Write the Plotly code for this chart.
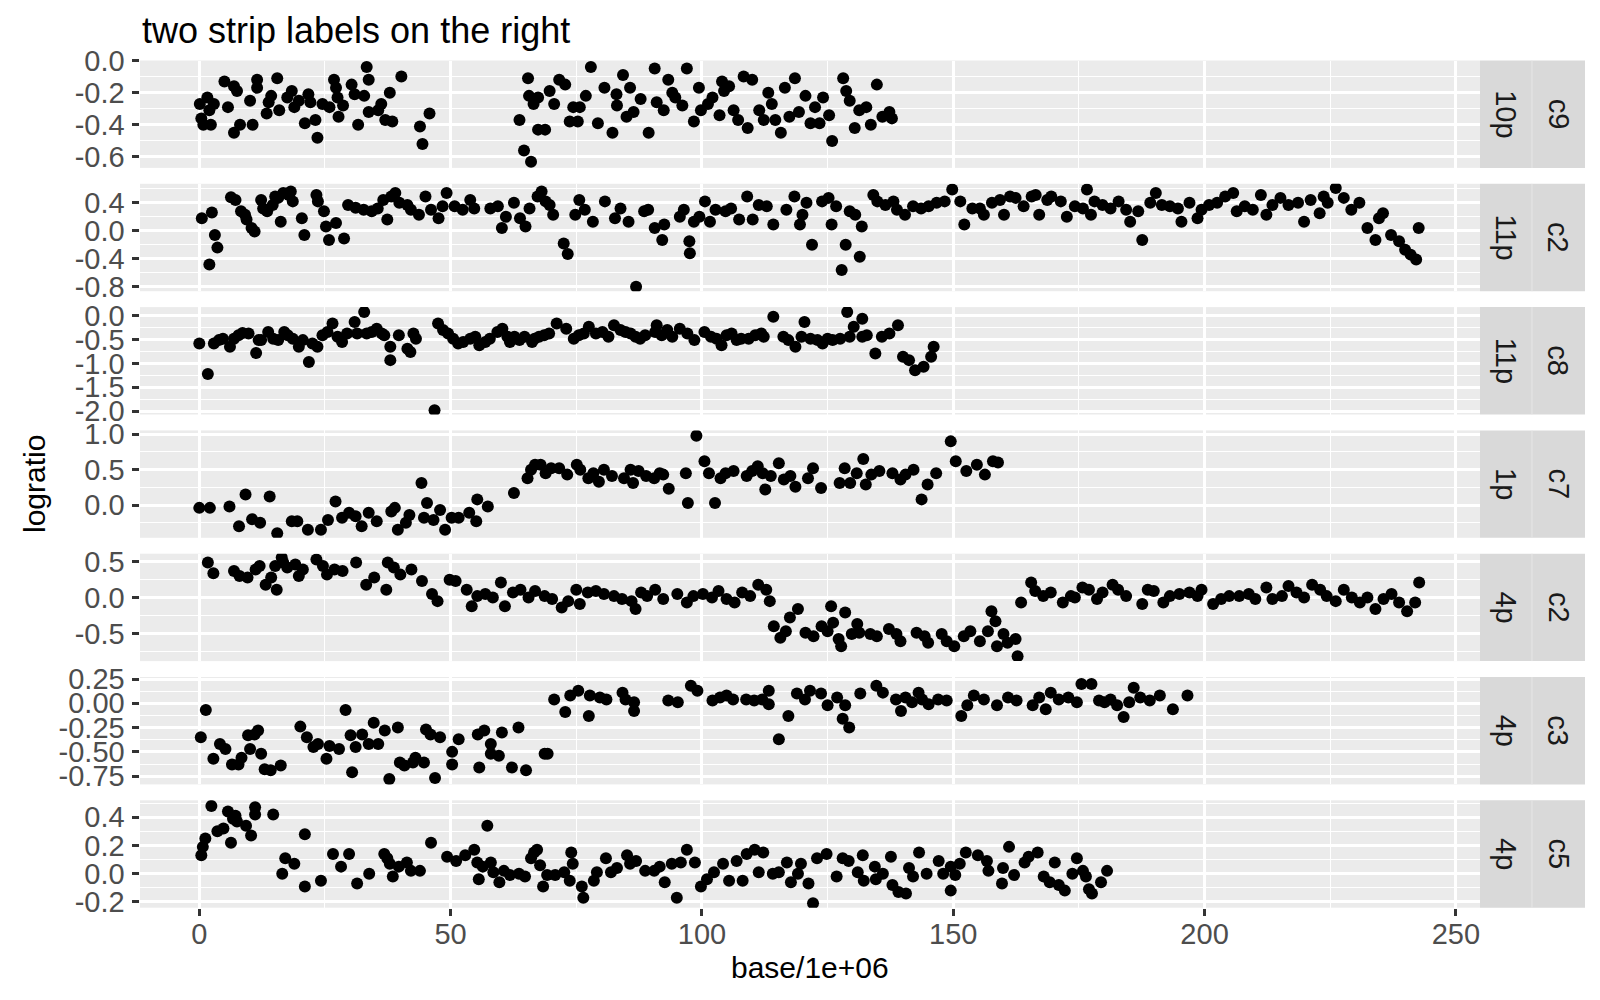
import plotly.graph_objects as go

# ---------------- data (x = base/1e+06, y = logratio) ----------------
p1_x = [0.1,0.4,0.8,1.6,2.0,2.3,2.9,5.7,5.0,6.9,7.5,6.9,8.1,10.1,10.6,11.5,11.5,13.4,13.8,14.3,
        15.5,15.9,17.5,18.4,18.9,19.8,21.0,21.7,22.1,23.1,23.5,24.5,25.9,26.8,27.2,27.5,27.7,28.6,30.3,30.9,
        31.6,32.8,33.3,33.7,33.7,35.6,36.2,37.0,37.9,38.4,40.2,43.9,44.4,45.8,
        64.6,66.0,63.7,65.4,65.6,66.5,67.4,68.8,67.4,69.7,70.6,71.6,72.8,73.7,74.4,75.3,75.7,76.9,77.9,79.3,
        80.6,82.2,83.0,83.1,84.3,85.0,85.7,86.4,87.8,89.4,90.6,91.0,92.4,93.3,94.1,94.7,96.1,97.0,98.4,99.4,
        99.8,101.2,102.1,103.5,104.0,104.4,105.4,106.3,107.2,108.3,109.1,110.0,111.4,112.3,113.2,113.9,114.6,115.7,116.5,117.4,
        118.5,119.3,120.6,121.6,122.5,123.4,124.1,125.3,125.9,128.1,128.7,129.4,130.4,131.3,132.7,133.6,134.8,135.9,137.3,137.8]
p1_y = [-0.27,-0.36,-0.40,-0.23,-0.31,-0.40,-0.27,-0.29,-0.13,-0.16,-0.19,-0.45,-0.40,-0.25,-0.40,-0.12,-0.17,-0.33,-0.26,-0.22,
        -0.11,-0.31,-0.23,-0.19,-0.29,-0.25,-0.39,-0.21,-0.26,-0.37,-0.48,-0.27,-0.29,-0.12,-0.17,-0.23,-0.35,-0.28,-0.15,-0.21,
        -0.40,-0.22,-0.04,-0.12,-0.32,-0.31,-0.27,-0.37,-0.20,-0.38,-0.10,-0.41,-0.52,-0.33,
        -0.56,-0.63,-0.37,-0.11,-0.22,-0.27,-0.43,-0.43,-0.23,-0.19,-0.27,-0.12,-0.15,-0.38,-0.29,-0.38,-0.29,-0.22,-0.04,-0.39,
        -0.17,-0.45,-0.21,-0.28,-0.09,-0.35,-0.17,-0.32,-0.24,-0.45,-0.05,-0.26,-0.31,-0.12,-0.20,-0.23,-0.28,-0.05,-0.38,-0.17,
        -0.31,-0.27,-0.23,-0.34,-0.13,-0.19,-0.16,-0.31,-0.37,-0.10,-0.42,-0.12,-0.31,-0.37,-0.20,-0.27,-0.37,-0.45,-0.17,-0.35,
        -0.11,-0.32,-0.22,-0.39,-0.29,-0.39,-0.23,-0.34,-0.50,-0.11,-0.19,-0.25,-0.42,-0.31,-0.29,-0.40,-0.15,-0.35,-0.32,-0.36]

p2_x = [0.5,2.5,2.0,3.1,3.6,6.3,7.2,8.3,9.1,9.4,10.4,11.0,12.3,12.7,13.5,14.6,15.1,15.7,16.2,16.7,
        17.8,18.2,18.6,20.4,20.9,23.3,23.6,24.8,25.2,25.8,27.2,28.8,29.6,31.1,32.7,34.3,35.5,36.6,37.4,38.2,
        39.0,39.8,41.4,42.1,43.7,45.0,46.1,47.6,48.4,49.2,50.8,52.4,53.9,54.7,57.9,59.4,60.2,61.0,62.6,63.8,
        64.9,65.7,67.3,68.1,68.9,69.7,70.4,72.5,73.3,74.8,75.6,76.7,78.3,80.7,82.7,83.8,85.4,86.9,88.5,89.3,
        90.6,92.1,92.5,95.6,96.4,97.5,97.6,98.4,99.5,100.6,101.6,102.7,104.7,105.8,107.4,109.0,110.1,111.3,112.9,114.2,
        116.8,118.4,119.5,120.0,120.8,121.9,123.9,125.2,125.8,126.7,127.8,128.6,129.4,130.5,131.4,131.8,134.1,134.9,136.5,138.1,
        138.8,140.4,142.0,143.6,145.1,146.7,148.3,149.8,151.4,152.2,153.8,155.3,156.1,157.7,159.3,160.1,161.3,162.4,164.0,165.6,
        166.4,167.1,168.7,169.5,171.4,172.6,174.2,175.8,176.6,177.4,178.1,179.7,181.3,182.9,184.4,185.2,186.8,187.6,189.2,190.3,
        191.5,193.1,194.7,195.4,197.0,198.6,199.4,200.9,202.5,204.1,205.7,206.4,208.0,209.6,211.2,212.3,213.5,215.1,216.7,218.6,
        219.8,221.1,222.9,223.7,224.5,226.1,227.7,229.2,230.8,232.4,234.0,234.7,235.5,237.1,238.7,239.9,241.0,242.1,242.6]
p2_y = [0.18,0.26,-0.48,-0.06,-0.24,0.48,0.44,0.28,0.23,0.16,0.04,-0.01,0.44,0.32,0.28,0.37,0.49,0.47,0.13,0.54,
        0.51,0.56,0.42,0.18,-0.06,0.51,0.42,0.28,0.06,-0.13,0.11,-0.11,0.37,0.33,0.30,0.28,0.32,0.44,0.16,0.49,
        0.54,0.40,0.37,0.30,0.23,0.49,0.30,0.18,0.35,0.54,0.35,0.30,0.44,0.32,0.32,0.35,0.04,0.20,0.40,0.18,
        0.06,0.32,0.49,0.56,0.42,0.37,0.23,-0.18,-0.33,0.23,0.44,0.30,0.13,0.42,0.18,0.32,0.13,-0.80,0.28,0.30,
        0.04,-0.13,0.09,0.20,0.30,-0.15,-0.32,0.13,0.20,0.42,0.13,0.30,0.28,0.32,0.16,0.49,0.16,0.37,0.35,0.09,
        0.30,0.49,0.09,0.23,0.40,-0.20,0.42,0.47,0.09,0.35,-0.56,-0.20,0.28,0.23,-0.37,0.06,0.51,0.42,0.37,0.42,
        0.30,0.23,0.35,0.32,0.35,0.40,0.42,0.59,0.42,0.09,0.32,0.32,0.23,0.40,0.44,0.23,0.49,0.47,0.35,0.49,
        0.51,0.23,0.44,0.49,0.42,0.20,0.35,0.32,0.59,0.23,0.42,0.37,0.32,0.42,0.30,0.13,0.28,-0.13,0.40,0.54,
        0.37,0.35,0.32,0.13,0.40,0.18,0.30,0.37,0.40,0.49,0.54,0.28,0.35,0.30,0.51,0.23,0.37,0.47,0.37,0.40,
        0.13,0.44,0.25,0.49,0.40,0.61,0.47,0.30,0.40,0.04,-0.13,0.18,0.25,-0.06,-0.15,-0.27,-0.34,-0.41,0.04]

p3_x = [0.0,1.7,2.9,3.9,4.7,6.1,6.9,7.8,8.6,9.8,11.3,11.8,12.3,13.7,14.7,15.7,16.9,17.6,18.6,19.8,
        20.6,21.8,22.5,23.5,24.5,25.5,26.5,27.5,28.4,29.4,30.9,31.4,32.8,33.3,34.3,35.3,36.3,36.8,38.0,38.0,
        39.7,41.4,42.0,42.6,43.1,46.8,47.5,48.5,49.5,50.5,51.5,52.5,53.9,54.9,55.7,56.9,57.8,59.3,60.3,61.3,
        61.8,62.7,63.7,64.7,66.2,66.7,67.6,68.6,69.6,71.1,73.0,74.5,75.5,76.5,77.5,78.9,80.2,81.4,82.5,83.8,
        84.8,85.8,86.8,87.7,88.7,91.0,90.7,92.0,93.1,94.1,95.6,97.1,98.5,100.5,101.8,102.9,103.9,104.9,105.9,106.9,
        107.8,109.3,110.6,111.8,112.3,114.2,116.2,117.2,118.6,119.8,120.4,121.6,123.0,124.0,125.0,126.0,127.5,128.9,129.4,130.2,
        131.9,131.9,132.8,134.5,135.8,137.3,139.0,140.0,141.2,142.4,144.1,145.6,146.1]
p3_y = [-0.58,-1.22,-0.58,-0.51,-0.48,-0.65,-0.48,-0.41,-0.36,-0.37,-0.78,-0.51,-0.51,-0.34,-0.48,-0.51,-0.34,-0.41,-0.48,-0.65,
        -0.51,-0.97,-0.58,-0.65,-0.41,-0.34,-0.16,-0.44,-0.55,-0.37,-0.13,-0.37,0.08,-0.37,-0.34,-0.27,-0.37,-0.41,-0.65,-0.93,
        -0.41,-0.69,-0.76,-0.37,-0.48,-1.98,-0.16,-0.30,-0.37,-0.48,-0.58,-0.55,-0.48,-0.44,-0.62,-0.55,-0.48,-0.34,-0.27,-0.44,
        -0.55,-0.44,-0.51,-0.44,-0.55,-0.48,-0.44,-0.41,-0.37,-0.16,-0.27,-0.48,-0.41,-0.37,-0.23,-0.37,-0.34,-0.44,-0.20,-0.30,
        -0.34,-0.37,-0.44,-0.48,-0.41,-0.20,-0.34,-0.41,-0.30,-0.44,-0.27,-0.37,-0.51,-0.34,-0.44,-0.48,-0.62,-0.41,-0.37,-0.51,
        -0.48,-0.48,-0.41,-0.37,-0.44,-0.02,-0.44,-0.51,-0.65,-0.44,-0.13,-0.48,-0.51,-0.58,-0.48,-0.51,-0.48,0.08,-0.44,-0.23,
        -0.06,-0.44,-0.41,-0.79,-0.44,-0.37,-0.20,-0.86,-0.93,-1.14,-1.07,-0.86,-0.65]

p4_x = [0.0,2.1,6.0,7.9,9.2,10.5,12.1,14.0,15.5,18.4,19.5,21.6,24.2,25.6,27.1,28.4,29.8,31.1,32.3,33.7,
        35.3,38.2,38.9,39.5,41.1,41.8,44.2,44.7,45.3,46.6,47.9,48.9,50.2,51.6,53.7,55.1,55.3,57.4,62.6,65.3,
        66.0,66.8,67.9,68.9,70.0,71.6,73.2,75.1,75.8,77.4,78.4,79.5,80.5,82.1,84.5,85.8,86.3,87.4,88.9,90.5,
        91.6,92.3,93.4,96.8,97.2,98.9,100.5,101.4,102.6,103.7,104.7,106.3,108.9,110.0,111.1,112.1,112.6,113.7,115.3,116.3,
        117.6,118.6,121.1,122.1,123.7,127.4,128.4,129.5,130.8,132.1,132.6,133.7,135.3,137.9,139.5,140.5,142.1,143.7,144.9,146.6,
        149.5,150.5,152.6,154.7,156.3,157.9,158.9]
p4_y = [-0.04,-0.04,-0.02,-0.30,0.15,-0.20,-0.25,0.12,-0.40,-0.23,-0.23,-0.35,-0.35,-0.21,0.05,-0.18,-0.11,-0.16,-0.30,-0.11,
        -0.23,-0.09,-0.04,-0.35,-0.25,-0.14,0.31,-0.18,0.03,-0.21,-0.07,-0.35,-0.18,-0.18,-0.11,-0.23,0.08,-0.02,0.17,0.38,
        0.50,0.57,0.57,0.45,0.52,0.52,0.43,0.57,0.50,0.38,0.45,0.33,0.50,0.41,0.38,0.50,0.31,0.48,0.41,0.38,
        0.45,0.43,0.23,0.45,0.03,0.98,0.62,0.45,0.03,0.38,0.45,0.48,0.41,0.48,0.55,0.45,0.22,0.41,0.59,0.36,
        0.41,0.26,0.38,0.52,0.24,0.31,0.52,0.31,0.45,0.65,0.29,0.43,0.48,0.45,0.36,0.43,0.50,0.08,0.29,0.45,
        0.90,0.62,0.48,0.57,0.43,0.62,0.60]

p5_x = [1.7,2.8,6.9,8.0,9.6,11.2,12.0,13.2,14.3,15.4,15.1,16.4,16.7,17.5,19.1,19.8,20.6,23.3,24.6,25.4,
        26.9,28.5,31.2,33.2,34.8,37.2,37.5,38.7,40.0,42.2,44.3,46.3,47.4,49.8,51.0,53.2,54.2,55.3,56.9,58.4,
        60.0,60.8,62.4,63.9,65.5,66.8,68.7,70.2,72.1,73.4,75.0,75.7,77.3,78.9,80.5,82.5,84.1,86.0,86.8,87.9,
        89.1,90.7,92.3,95.1,97.0,98.3,100.2,102.0,103.3,104.9,106.5,108.0,109.6,111.2,112.8,113.5,114.3,115.6,116.7,117.5,
        119.1,120.6,122.2,123.8,125.0,125.7,126.1,127.2,127.7,128.5,129.8,130.9,131.3,133.5,134.8,137.2,138.7,139.5,142.7,144.3,
        145.0,147.7,148.7,150.2,152.1,153.4,155.3,156.9,157.6,158.4,158.7,160.0,160.8,162.4,162.8,163.5,165.5,166.3,167.9,169.4,
        171.8,173.4,174.2,175.7,177.0,178.6,179.7,181.7,182.8,184.4,187.6,188.7,189.9,191.8,193.1,195.0,197.0,198.6,199.4,201.7,
        203.3,204.9,206.9,208.8,210.1,212.3,213.5,215.4,216.7,218.3,219.8,221.4,223.0,224.3,226.1,227.7,229.3,230.9,232.4,234.0,
        235.6,237.2,238.7,240.3,241.9,242.7]
p5_y = [0.49,0.34,0.37,0.30,0.28,0.39,0.44,0.18,0.28,0.11,0.44,0.56,0.49,0.42,0.46,0.30,0.39,0.53,0.44,0.32,
        0.39,0.37,0.49,0.18,0.28,0.11,0.49,0.42,0.32,0.39,0.23,0.05,-0.05,0.25,0.23,0.11,-0.12,0.02,0.05,0.00,
        0.21,-0.12,0.07,0.11,0.00,0.09,0.02,-0.02,-0.14,-0.05,0.11,-0.09,0.07,0.09,0.05,0.02,-0.02,-0.05,-0.16,0.07,
        0.02,0.11,-0.02,0.05,-0.07,0.02,0.05,0.00,0.09,-0.02,-0.07,0.07,0.02,0.18,0.11,-0.05,-0.40,-0.56,-0.47,-0.28,
        -0.16,-0.49,-0.54,-0.40,-0.47,-0.12,-0.35,-0.58,-0.68,-0.21,-0.51,-0.37,-0.49,-0.51,-0.54,-0.44,-0.51,-0.61,-0.49,-0.54,
        -0.63,-0.51,-0.61,-0.68,-0.54,-0.47,-0.61,-0.47,-0.19,-0.33,-0.68,-0.51,-0.63,-0.58,-0.82,-0.07,0.21,0.09,0.02,0.07,
        -0.07,0.02,0.00,0.14,0.11,-0.02,0.07,0.18,0.11,0.02,-0.09,0.11,0.09,-0.07,0.02,0.05,0.07,0.02,0.11,-0.09,
        -0.02,0.02,0.02,0.05,-0.02,0.14,-0.02,0.02,0.16,0.07,0.00,0.18,0.11,0.02,-0.05,0.11,0.00,-0.07,0.00,-0.16,
        -0.02,0.05,-0.07,-0.19,-0.07,0.21]

p6_x = [1.3,0.3,2.8,4.1,5.2,6.5,7.8,8.4,9.7,10.1,11.0,11.7,12.3,13.0,14.2,16.2,20.1,21.4,22.7,23.6,
        25.3,25.9,27.8,29.1,30.1,30.4,31.1,32.4,33.7,34.7,35.6,36.9,37.8,39.5,39.9,40.8,42.5,43.0,44.7,45.1,
        46.0,46.9,47.9,50.3,50.3,51.6,55.4,55.7,56.7,58.0,58.0,59.6,60.2,62.2,63.5,65.0,68.7,69.3,70.6,72.8,
        73.8,75.4,77.5,77.7,79.7,81.0,84.2,84.8,86.5,86.5,93.3,95.2,97.8,99.1,102.1,103.6,104.9,106.2,108.8,110.4,
        112.0,113.3,113.3,115.3,117.2,118.9,120.5,121.5,123.7,125.0,126.9,128.0,128.5,129.3,131.5,134.7,136.0,138.6,139.6,140.5,
        141.8,143.1,143.8,145.1,147.0,148.7,151.6,152.8,154.1,156.1,158.7,160.9,162.6,165.8,167.1,168.4,169.4,171.0,172.9,174.6,
        175.5,177.5,179.0,180.1,181.3,182.6,183.9,185.0,185.9,187.2,189.1,191.1,193.7,196.6]
p6_y = [-0.07,-0.35,-0.57,-0.42,-0.47,-0.63,-0.63,-0.56,-0.33,-0.47,-0.32,-0.28,-0.52,-0.68,-0.69,-0.64,-0.24,-0.35,-0.45,-0.42,
        -0.57,-0.44,-0.47,-0.07,-0.33,-0.71,-0.45,-0.32,-0.42,-0.20,-0.42,-0.28,-0.78,-0.25,-0.61,-0.64,-0.61,-0.56,-0.61,-0.27,
        -0.32,-0.77,-0.35,-0.50,-0.63,-0.37,-0.32,-0.66,-0.28,-0.42,-0.52,-0.54,-0.30,-0.66,-0.25,-0.69,-0.52,-0.52,0.04,-0.09,
        0.08,0.13,-0.13,0.08,0.06,0.04,0.11,0.04,0.01,-0.08,0.03,0.01,0.18,0.13,0.03,0.06,0.08,0.04,0.04,0.03,
        0.04,0.13,-0.01,-0.37,-0.13,0.10,0.04,0.13,0.10,-0.02,0.06,-0.16,-0.02,-0.25,0.10,0.18,0.11,0.04,-0.08,0.06,
        0.01,0.11,0.04,-0.01,0.04,0.03,-0.13,-0.02,0.08,0.04,-0.02,0.06,0.03,-0.02,0.06,-0.06,0.11,0.04,0.06,0.01,
        0.20,0.20,0.03,0.01,0.04,-0.02,-0.14,0.01,0.16,0.06,0.03,0.08,-0.06,0.08]

p7_x = [0.4,0.7,1.2,2.4,3.6,4.8,5.7,6.3,6.7,7.2,7.5,9.3,10.3,11.1,11.1,14.7,16.5,17.1,18.9,21.0,
        21.0,24.2,26.6,28.2,29.8,31.4,33.8,36.8,37.4,37.9,38.5,39.7,41.3,42.1,43.9,46.1,49.3,51.1,52.9,54.7,
        55.3,55.6,56.4,57.3,58.0,58.5,59.7,60.6,61.8,63.6,64.8,66.0,66.6,67.2,67.8,68.4,69.2,70.8,72.6,73.7,
        74.0,74.3,76.1,76.4,78.5,79.1,80.9,81.9,83.1,85.1,85.7,86.9,88.7,90.5,91.6,92.6,94.0,95.0,95.8,97.0,
        98.6,99.8,101.0,102.4,104.2,105.4,106.9,108.1,108.9,110.5,111.3,112.2,114.1,115.3,116.9,117.7,119.1,119.7,121.2,122.1,
        122.9,124.8,126.8,128.0,129.2,131.0,132.0,132.2,134.4,134.6,136.0,137.6,137.9,139.1,140.6,141.2,142.0,143.2,144.7,147.1,
        148.0,149.5,149.5,150.4,151.3,152.5,154.9,156.7,157.0,159.7,159.9,161.1,162.1,164.2,165.0,166.8,168.0,169.2,170.2,171.0,
        172.2,173.7,174.6,175.8,176.4,177.0,177.6,179.4,180.6]
p7_y = [0.13,0.19,0.25,0.48,0.30,0.32,0.44,0.22,0.39,0.41,0.37,0.34,0.27,0.47,0.42,0.42,0.00,0.11,0.07,0.28,
        -0.09,-0.05,0.14,0.05,0.14,-0.07,0.00,0.14,0.11,0.07,-0.02,0.05,0.08,0.02,0.02,0.22,0.12,0.09,0.13,0.17,
        0.08,-0.04,0.05,0.34,0.08,0.01,-0.06,0.02,-0.01,0.00,-0.02,0.11,0.15,0.17,0.06,-0.09,-0.01,-0.01,0.01,-0.05,
        0.15,0.07,-0.09,-0.17,-0.05,0.01,0.11,0.01,0.04,0.13,0.07,0.09,0.02,0.02,0.05,-0.06,0.07,-0.17,0.08,0.17,
        0.08,-0.09,-0.04,0.01,0.07,-0.05,0.09,-0.05,0.14,0.17,0.01,0.15,0.00,0.01,0.08,-0.06,0.00,0.07,-0.07,-0.21,
        0.11,0.14,-0.02,0.11,0.09,0.01,0.13,-0.05,0.05,-0.04,0.00,0.12,-0.08,-0.13,-0.14,0.04,-0.02,0.15,0.00,0.09,
        0.00,0.05,-0.12,-0.01,0.07,0.15,0.13,0.09,0.02,-0.07,0.04,0.19,-0.01,0.08,0.12,0.15,-0.02,-0.06,0.08,-0.08,
        -0.12,0.00,0.11,0.02,-0.02,-0.11,-0.14,-0.06,0.02]

# facet strip labels (inner strip next to panel, outer strip at far right)
strip_inner = ["10p", "11p", "11p", "1p", "4p", "4p", "4p"]
strip_outer = ["c9", "c2", "c8", "c7", "c2", "c3", "c5"]

# axis ticks
x_ticks = [0, 50, 100, 150, 200, 250]
x_labels = ["0", "50", "100", "150", "200", "250"]
y_ticks = [
    [-0.6, -0.4, -0.2, 0.0],
    [-0.8, -0.4, 0.0, 0.4],
    [-2.0, -1.5, -1.0, -0.5, 0.0],
    [0.0, 0.5, 1.0],
    [-0.5, 0.0, 0.5],
    [-0.75, -0.50, -0.25, 0.00, 0.25],
    [-0.2, 0.0, 0.2, 0.4],
]
y_labels = [
    ["-0.6", "-0.4", "-0.2", "0.0"],
    ["-0.8", "-0.4", "0.0", "0.4"],
    ["-2.0", "-1.5", "-1.0", "-0.5", "0.0"],
    ["0.0", "0.5", "1.0"],
    ["-0.5", "0.0", "0.5"],
    ["-0.75", "-0.50", "-0.25", "0.00", "0.25"],
    ["-0.2", "0.0", "0.2", "0.4"],
]
y_ranges = [
    [-0.668, 0.0],
    [-0.862, 0.671],
    [-2.071, 0.183],
    [-0.463, 1.055],
    [-0.887, 0.612],
    [-0.835, 0.271],
    [-0.241, 0.520],
]
x_range = [-11.8, 254.8]

panels = [(p1_x, p1_y), (p2_x, p2_y), (p3_x, p3_y), (p4_x, p4_y),
          (p5_x, p5_y), (p6_x, p6_y), (p7_x, p7_y)]

# ---------------- layout geometry (pixels) ----------------
W, H = 1600, 1000
PL, PR = 140, 1480          # panel left/right
S1R, S2R = 1532, 1585       # strip right edges
TOP0, STEP, PH = 60.5, 123.3, 107.4

FONT = "Liberation Sans, Arial, Helvetica, sans-serif"
TICKFONT = dict(family=FONT, size=29, color="#4D4D4D")
GRID_MAJ, GRID_MIN = 2.9, 1.45


def minor_vals(ticks, rng):
    step = ticks[1] - ticks[0]
    cand = [t + step / 2 for t in ticks] + [ticks[0] - step / 2]
    return [v for v in cand if rng[0] <= v <= rng[1]]


fig = go.Figure()
layout = dict(
    width=W, height=H, autosize=False,
    margin=dict(l=0, r=0, t=0, b=0, pad=0, autoexpand=False),
    paper_bgcolor="white", plot_bgcolor="#EBEBEB",
    showlegend=False,
    font=dict(family=FONT),
)
shapes, annotations = [], []

x_minor = [25, 75, 125, 175, 225]

for i, (xs, ys) in enumerate(panels):
    n = i + 1
    sfx = "" if n == 1 else str(n)
    top = TOP0 + STEP * i
    bot = top + PH
    dom = [1 - bot / H, 1 - top / H]
    last = (n == len(panels))
    fig.add_trace(go.Scatter(
        x=xs, y=ys, mode="markers",
        marker=dict(color="black", size=12, line=dict(width=0)),
        xaxis="x" + sfx, yaxis="y" + sfx, hoverinfo="skip",
    ))
    layout["xaxis" + sfx] = dict(
        domain=[PL / W, PR / W], range=x_range, anchor="y" + sfx,
        tickmode="array", tickvals=x_ticks, ticktext=x_labels,
        showticklabels=last, ticks="outside" if last else "",
        ticklen=7.5, tickwidth=2.6, tickcolor="#333333",
        tickfont=TICKFONT, ticklabelstandoff=-7, automargin=False,
        showgrid=True, gridcolor="white", gridwidth=GRID_MAJ,
        minor=dict(tickvals=x_minor, showgrid=True, gridcolor="white",
                   gridwidth=GRID_MIN, ticks=""),
        zeroline=False, showline=False, fixedrange=True,
    )
    layout["yaxis" + sfx] = dict(
        domain=dom, range=y_ranges[i], anchor="x" + sfx,
        tickmode="array", tickvals=y_ticks[i], ticktext=y_labels[i],
        ticks="outside", ticklen=7.5, tickwidth=2.6, tickcolor="#333333",
        tickfont=TICKFONT, ticklabelstandoff=1, automargin=False,
        showgrid=True, gridcolor="white", gridwidth=GRID_MAJ,
        minor=dict(tickvals=minor_vals(y_ticks[i], y_ranges[i]), showgrid=True,
                   gridcolor="white", gridwidth=GRID_MIN, ticks=""),
        zeroline=False, showline=False, fixedrange=True,
    )
    # strips
    for (x0, x1, lab) in [(PR, S1R, strip_inner[i]), (S1R, S2R, strip_outer[i])]:
        shapes.append(dict(type="rect", xref="paper", yref="paper",
                           x0=x0 / W, x1=x1 / W, y0=dom[0], y1=dom[1],
                           fillcolor="#D9D9D9", line=dict(width=0), layer="below"))
        annotations.append(dict(text=lab, xref="paper", yref="paper",
                                x=(x0 + x1) / 2 / W, y=(dom[0] + dom[1]) / 2,
                                xanchor="center", yanchor="middle", textangle=90,
                                showarrow=False,
                                font=dict(family=FONT, size=29, color="#1A1A1A")))
    shapes.append(dict(type="line", xref="paper", yref="paper",
                       x0=S1R / W, x1=S1R / W, y0=dom[0], y1=dom[1],
                       line=dict(color="#E6E6E6", width=1)))

# titles
annotations.append(dict(text="two strip labels on the right", xref="paper", yref="paper",
                        x=PL / W, y=1 - 30 / H, xanchor="left", yanchor="middle",
                        showarrow=False, font=dict(family=FONT, size=36, color="black")))
annotations.append(dict(text="logratio", xref="paper", yref="paper",
                        x=34 / W, y=1 - 484 / H, xanchor="center", yanchor="middle",
                        textangle=-90, showarrow=False,
                        font=dict(family=FONT, size=30, color="black")))
annotations.append(dict(text="base/1e+06", xref="paper", yref="paper",
                        x=(PL + PR) / 2 / W, y=1 - 967 / H, xanchor="center", yanchor="middle",
                        showarrow=False, font=dict(family=FONT, size=30, color="black")))

layout["shapes"] = shapes
layout["annotations"] = annotations
fig.update_layout(**layout)

fig.write_html("out.html", config={"displayModeBar": False},
               post_script="document.body.style.margin='0';")
